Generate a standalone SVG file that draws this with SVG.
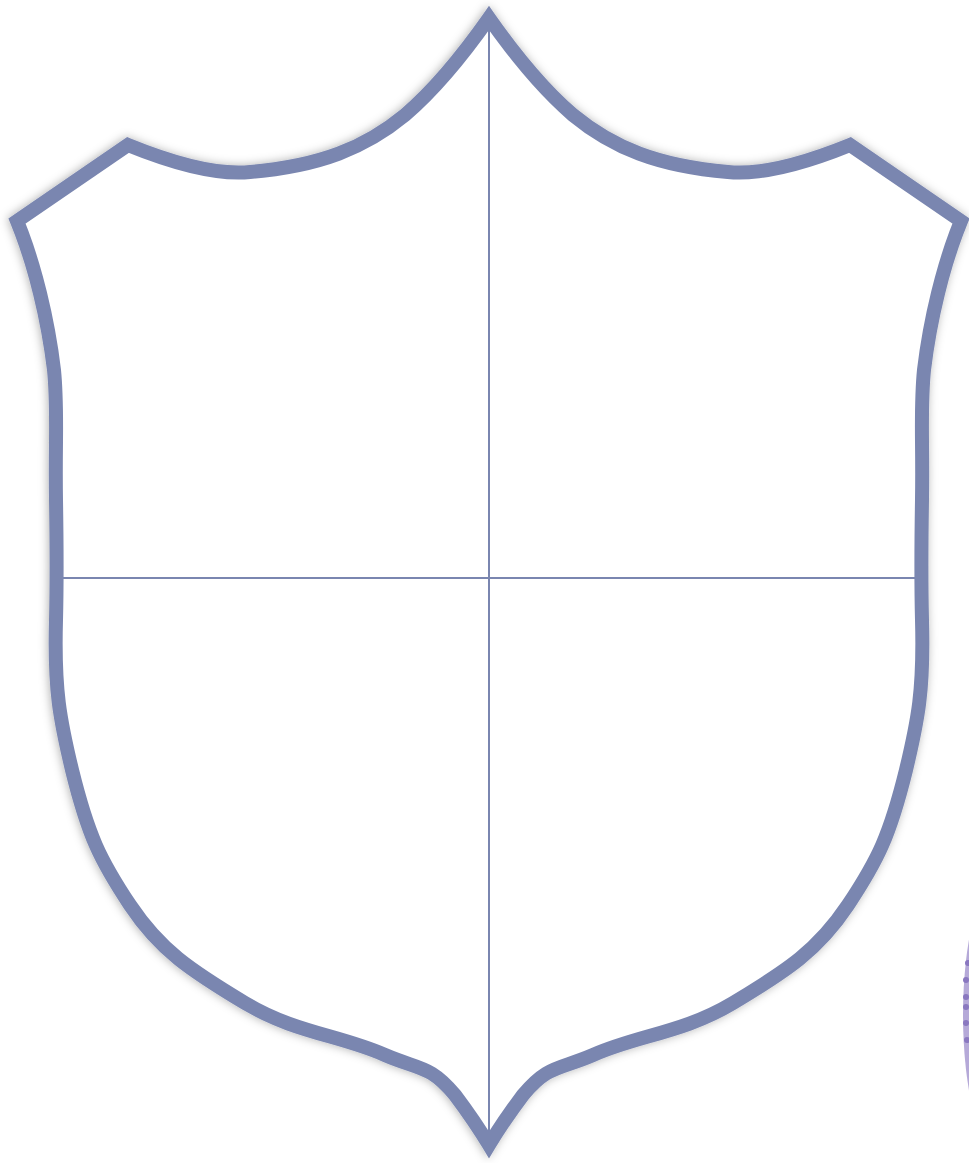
<svg xmlns="http://www.w3.org/2000/svg" width="969" height="1163" viewBox="0 0 969 1163">
<defs>
<style>
.outline{fill:#ffffff;stroke:#7a86b0;stroke-width:14;stroke-linejoin:miter;stroke-miterlimit:10}
.divider{stroke:#7a86b0;stroke-width:2;fill:none}
.dot{fill:#8a78c0}
</style>
<filter id="shadow" x="-10%" y="-10%" width="120%" height="120%">
<feDropShadow dx="-1" dy="0" stdDeviation="5" flood-color="#000000" flood-opacity="0.3"/>
</filter>
</defs>
<rect width="969" height="1163" fill="#ffffff"/>
<g id="decoration">
<ellipse cx="1001" cy="1015" rx="38" ry="140" fill="#b5a9d8"/>
<circle class="dot" cx="968" cy="963" r="3"/>
<circle class="dot" cx="966" cy="980" r="3"/>
<circle class="dot" cx="966" cy="997" r="3"/>
<circle class="dot" cx="966" cy="1007" r="3"/>
<circle class="dot" cx="966" cy="1023" r="3"/>
<circle class="dot" cx="967" cy="1040" r="3"/>
</g>
<g id="shield">
<path class="outline" filter="url(#shadow)" d="M489,18 C470,45 440,85 405,115 C365,148 320,166 250,172 C210,176 160,158 128,145 L17,221 C35,265 48,320 54,370 C58,410 55,440 56,500 C57,560 57,580 56,620 C54,690 60,720 72,770 C88,835 100,860 130,905 C160,950 190,970 245,1003 C295,1033 340,1035 385,1055 C420,1070 430,1065 455,1095 C470,1115 480,1130 489,1145 C498,1130 508,1115 523,1095 C548,1065 558,1070 593,1055 C638,1035 683,1033 733,1003 C788,970 818,950 848,905 C878,860 890,835 906,770 C918,720 924,690 922,620 C921,580 921,560 922,500 C923,440 920,410 924,370 C930,320 943,265 961,221 L850,145 C818,158 768,176 728,172 C658,166 613,148 573,115 C538,85 508,45 489,18 Z"/>
</g>
<g id="connectors">
<line class="divider" x1="489" y1="28" x2="489" y2="1135"/>
<line class="divider" x1="62" y1="578" x2="916" y2="578"/>
</g>
</svg>
